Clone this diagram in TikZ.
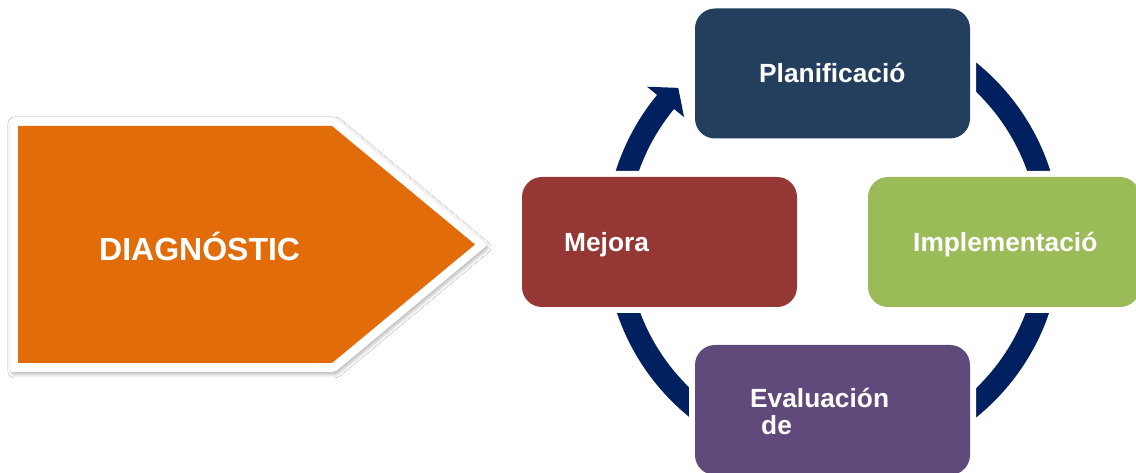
\documentclass[tikz,border=0pt]{standalone}
\usepackage{fontspec}
\setmainfont{Liberation Sans}
\usetikzlibrary{shadows.blur,calc}
\definecolor{orangeA}{HTML}{E36C0A}
\definecolor{navyA}{HTML}{002060}
\definecolor{planC}{HTML}{243F5E}
\definecolor{mejC}{HTML}{943735}
\definecolor{implC}{HTML}{9BBB59}
\definecolor{evalC}{HTML}{604A7B}
\begin{document}
\begin{tikzpicture}[x=1pt,y=1pt,
  box/.style={rectangle, rounded corners=20pt, minimum width=275pt, minimum height=130pt, inner sep=0pt,
              preaction={draw=white, line width=12pt}},
  lbl/.style={anchor=base west, inner sep=0pt, text=white, font=\bfseries\fontsize{26.3}{28}\selectfont},
  cyc/.style={draw=navyA, line width=22pt}]
\useasboundingbox (0,0) rectangle (1136,473);
\fill[white] (0,0) rectangle (1136,473);
% pentagon arrow
\fill[white, rounded corners=3pt, blur shadow={shadow xshift=1.5pt, shadow yshift=-2.5pt, shadow blur radius=3.5pt, shadow opacity=28}]
  (10,355) -- (335,355) -- (487.5,228) -- (335,101) -- (10,101) -- cycle;
\fill[orangeA] (18,347) -- (332,347) -- (475,228.5) -- (332,110) -- (18,110) -- cycle;
\node[anchor=base west, inner sep=0pt, text=white, font=\bfseries\fontsize{32}{34}\selectfont] (diag) at (99,212) {DIAGNÓSTIC};
% cycle
\coordinate (c) at (833,233);
\draw[cyc] ($(c)+(180:217pt)$) arc[start angle=180, end angle=140, radius=217pt];
\fill[navyA] ($(c)+(140.5:241pt)$) -- ($(c)+(135.5:217pt)$) -- ($(c)+(140.5:193pt)$) -- cycle;
\draw[cyc] ($(c)+(90:217pt)$) arc[start angle=90, end angle=0, radius=217pt];
\draw[cyc] ($(c)+(0:217pt)$) arc[start angle=0, end angle=-90, radius=217pt];
\draw[cyc] ($(c)+(-90:217pt)$) arc[start angle=-90, end angle=-180, radius=217pt];
% boxes
\node[box, fill=planC] (plan) at (832.5,399.5) {};
\node[box, fill=mejC] (mej) at (659.5,231) {};
\node[box, fill=implC, minimum width=272pt] (impl) at (1004,231) {};
\node[box, fill=evalC] (eval) at (832.5,63) {};
% labels
\node[lbl] (planT) at (759,390) {Planificació};
\node[lbl] (mejT) at (564,221) {Mejora};
\node[lbl] (implT) at (913,221) {Implementació};
\node[lbl] (evalT) at (750,65) {Evaluación};
\node[lbl] (evalT2) at (761,38) {de};
\end{tikzpicture}
\end{document}
